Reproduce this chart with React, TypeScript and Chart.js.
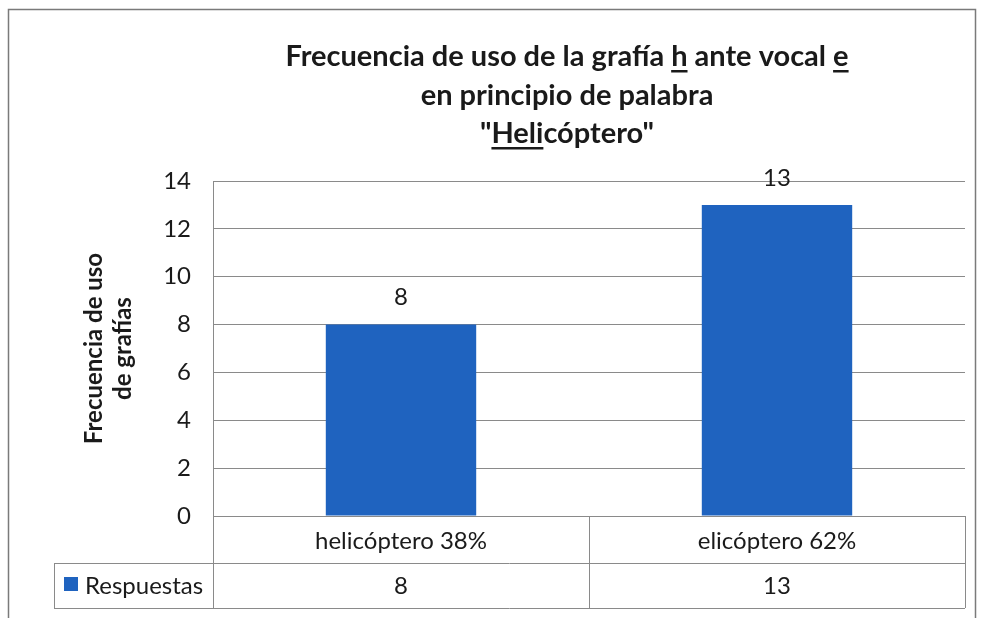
import React, { useEffect, useRef } from "react";
import { Chart, registerables } from "chart.js";

Chart.register(...registerables);

// ---- data ----
const categories = ["helicóptero 38%", "elicóptero 62%"];
const seriesName = "Respuestas";
const values = [8, 13];
const yMin = 0;
const yMax = 14;
const yStep = 2;
const yAxisTitle = ["Frecuencia de uso", "de grafías"];
// title lines as segments; u = underlined
const titleLine1 = [
  { t: "Frecuencia de uso de la grafía ", u: false },
  { t: "h", u: true },
  { t: " ante vocal ", u: false },
  { t: "e", u: true },
];
const titleLine2 = [{ t: "en principio de palabra", u: false }];
const titleLine3 = [
  { t: '"', u: false },
  { t: "Heli", u: true },
  { t: 'cóptero"', u: false },
];

const FONT = "Lato, 'Open Sans', sans-serif";
const BAR_COLOR = "#1f63bf";
const GRID = "#8a8a8a";
const TEXT = "#1a1a1a";

const framePlugin = {
  id: "frame",
  beforeDraw(chart: any) {
    const ctx = chart.ctx;
    ctx.save();
    ctx.fillStyle = "#ffffff";
    ctx.fillRect(0, 0, chart.width, chart.height);
    ctx.strokeStyle = "#7a7a7a";
    ctx.lineWidth = 1.5;
    ctx.strokeRect(8.5, 9.5, chart.width - 17, chart.height + 20);
    ctx.restore();
  },
  afterDatasetsDraw(chart: any) {
    const ctx = chart.ctx;
    const meta = chart.getDatasetMeta(0);
    ctx.save();
    ctx.font = `24px ${FONT}`;
    ctx.fillStyle = TEXT;
    ctx.textAlign = "center";
    ctx.textBaseline = "middle";
    meta.data.forEach((bar: any, i: number) => {
      ctx.fillText(String(values[i]), bar.x, bar.y - 27);
    });
    ctx.restore();
  },
  afterDraw(chart: any) {
    const ctx = chart.ctx;
    const area = chart.chartArea;
    const xs = chart.scales.x;
    ctx.save();

    // ---- title with underlines ----
    const cx = 567;
    const lines = [titleLine1, titleLine2, titleLine3];
    const baselines = [66, 105, 143];
    ctx.font = `bold 29px ${FONT}`;
    ctx.fillStyle = TEXT;
    ctx.strokeStyle = TEXT;
    ctx.textBaseline = "alphabetic";
    ctx.textAlign = "left";
    lines.forEach((segs, li) => {
      const total = segs.reduce((s, g) => s + ctx.measureText(g.t).width, 0);
      let x = cx - total / 2;
      const y = baselines[li];
      segs.forEach((g) => {
        const w = ctx.measureText(g.t).width;
        ctx.fillText(g.t, x, y);
        if (g.u) {
          ctx.fillRect(x, y + 4, w, 2.5);
        }
        x += w;
      });
    });

    // ---- data table ----
    const top = area.bottom;
    const mid = 563;
    const bot = 608;
    const legendLeft = 54;
    const left = area.left;
    const right = area.right;
    ctx.strokeStyle = GRID;
    ctx.lineWidth = 1;
    const hl = (x1: number, x2: number, y: number) => {
      ctx.beginPath();
      ctx.moveTo(x1, Math.round(y) + 0.5);
      ctx.lineTo(x2, Math.round(y) + 0.5);
      ctx.stroke();
    };
    const vl = (x: number, y1: number, y2: number) => {
      ctx.beginPath();
      ctx.moveTo(Math.round(x) + 0.5, y1);
      ctx.lineTo(Math.round(x) + 0.5, y2);
      ctx.stroke();
    };
    hl(left, right, top);
    hl(legendLeft, right, mid);
    hl(legendLeft, right, bot);
    vl(left, area.top, bot);
    vl(right, top, bot);
    vl(legendLeft, mid, bot);
    const n = categories.length;
    for (let i = 1; i < n; i++) {
      const bx = (xs.getPixelForValue(i - 1) + xs.getPixelForValue(i)) / 2;
      vl(bx, top, bot);
    }
    ctx.font = `24px ${FONT}`;
    ctx.fillStyle = TEXT;
    ctx.textAlign = "center";
    ctx.textBaseline = "middle";
    categories.forEach((c, i) => {
      const px = xs.getPixelForValue(i);
      ctx.fillText(c, px, (top + mid) / 2 + 2);
      ctx.fillText(String(values[i]), px, (mid + bot) / 2 + 1);
    });
    // legend key
    ctx.fillStyle = BAR_COLOR;
    ctx.fillRect(64, 577, 14, 14);
    ctx.fillStyle = TEXT;
    ctx.textAlign = "left";
    ctx.fillText(seriesName, 85, (mid + bot) / 2 + 1);

    ctx.restore();
  },
};

export default function App() {
  const ref = useRef<HTMLCanvasElement | null>(null);
  useEffect(() => {
    document.body.style.margin = "0";
    const canvas = ref.current!;
    const chart = new Chart(canvas, {
      type: "bar",
      data: {
        labels: categories,
        datasets: [
          {
            label: seriesName,
            data: values,
            backgroundColor: BAR_COLOR,
            borderWidth: 0,
            barPercentage: 0.4,
            categoryPercentage: 1,
          },
        ],
      },
      options: {
        responsive: false,
        animation: false,
        devicePixelRatio: 1,
        layout: { padding: { top: 181, right: 19, bottom: 0, left: 0 } },
        plugins: {
          legend: { display: false },
          title: { display: false },
          tooltip: { enabled: false },
        },
        scales: {
          x: {
            ticks: { display: false },
            grid: { display: false, drawTicks: false },
            border: { display: false },
            afterFit(scale: any) {
              scale.height = 102;
            },
          },
          y: {
            min: yMin,
            max: yMax,
            ticks: {
              stepSize: yStep,
              color: TEXT,
              font: { family: FONT, size: 24 },
              padding: 22,
            },
            grid: { color: GRID, drawTicks: false, lineWidth: 1 },
            border: { display: false },
            title: {
              display: true,
              text: yAxisTitle,
              color: TEXT,
              font: { family: FONT, size: 24, weight: "bold", lineHeight: 1.2 },
              padding: { top: 80, bottom: 0 },
            },
            afterFit(scale: any) {
              scale.width = 213;
            },
          },
        },
      },
      plugins: [framePlugin],
    } as any);
    return () => chart.destroy();
  }, []);
  return <canvas ref={ref} width={984} height={618} style={{ display: "block" }} />;
}
